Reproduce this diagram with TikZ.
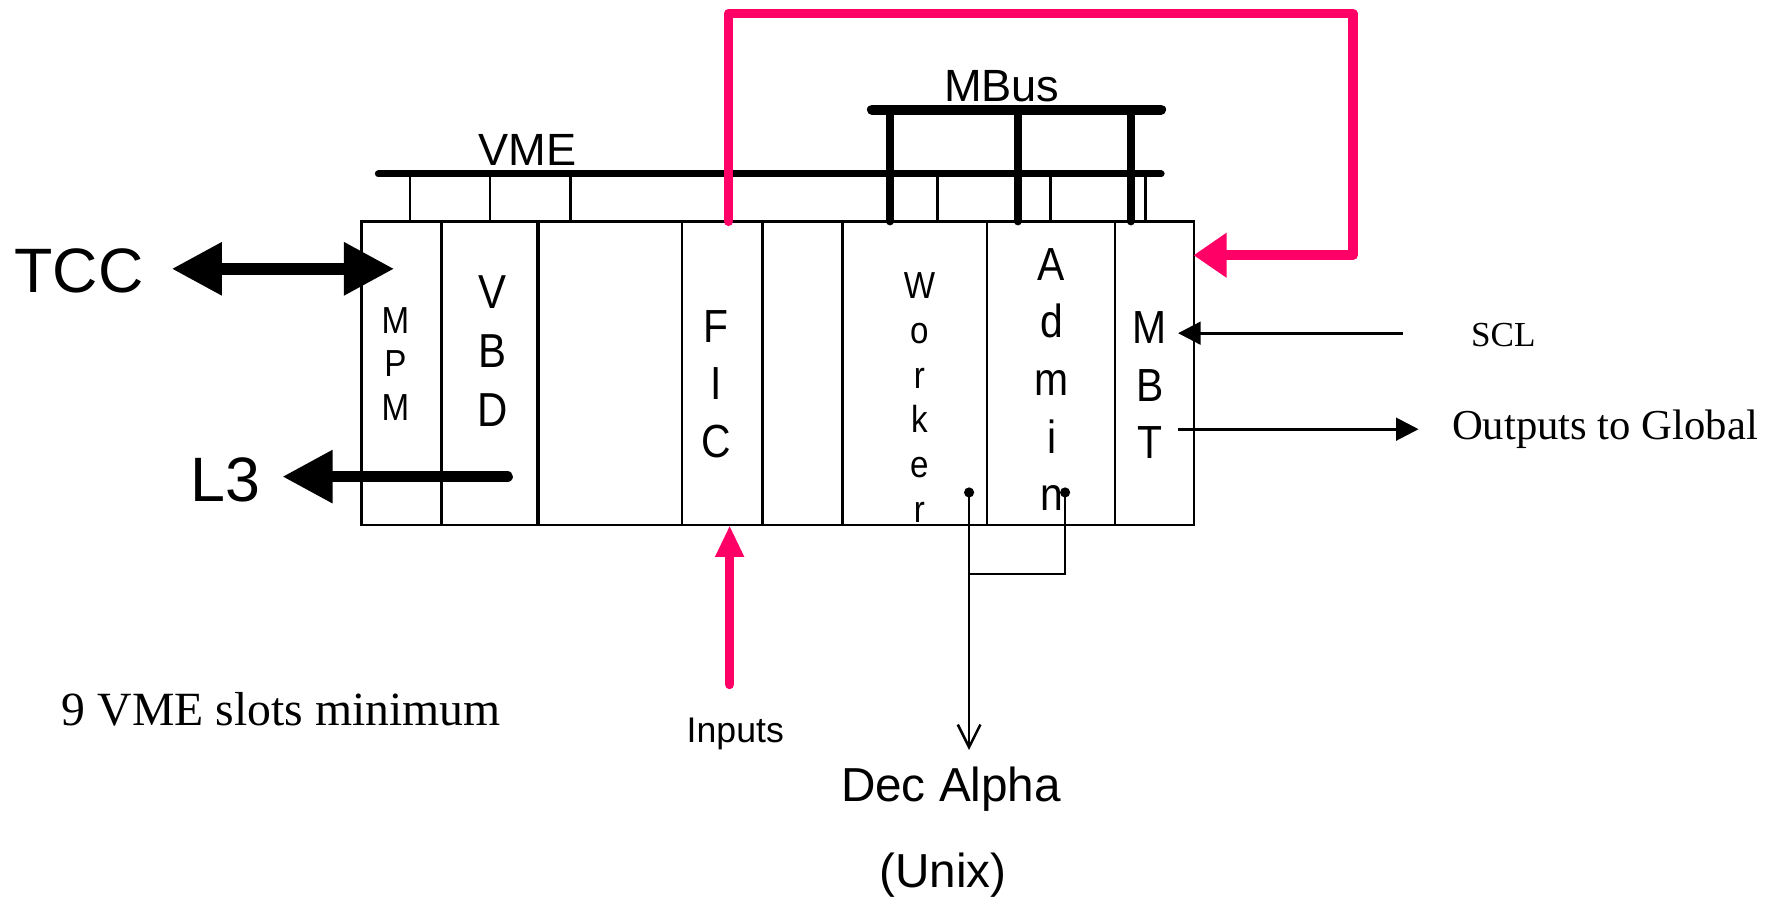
\documentclass[tikz,border=0pt]{standalone}
\usepackage{fontspec}
\setmainfont{Liberation Serif}
\setsansfont{Liberation Sans}
\newfontfamily\slotfont[FakeStretch=0.88]{Liberation Sans}
\usetikzlibrary{arrows.meta}
\definecolor{hotpink}{RGB}{255,0,102}
\tikzset{
  sf/.style={font=\sffamily\fontsize{#1}{#1}\selectfont, inner sep=0pt},
  rm/.style={font=\rmfamily\fontsize{#1}{#1}\selectfont, inner sep=0pt},
  stack/.style 2 args={font=\slotfont\fontsize{#1}{#2}\selectfont, align=center, inner sep=0pt},
  thinline/.style={line width=1pt},
  busline/.style={line width=2.8pt, line cap=round},
  mbusline/.style={line width=4pt, line cap=round},
  legline/.style={line width=3.2pt, line cap=round},
  pinkline/.style={draw=hotpink, line width=3.8pt, line cap=round, line join=round},
  bigarrow/.style={line width=4.6pt, -{Triangle[length=20pt,width=20pt]}},
  bigdouble/.style={line width=4.6pt, {Triangle[length=20pt,width=20pt]}-{Triangle[length=20pt,width=20pt]}},
  smallarrow/.style={line width=1.2pt, -{Triangle[length=9pt,width=9pt]}},
}
\begin{document}
\begin{tikzpicture}[x=0.45pt,y=-0.45pt]
\useasboundingbox (0,0) rectangle (1568,799);
% crate box and slot dividers
\draw[thinline] (320,196) rectangle (1057,465);
\foreach \xx in {391,604,675,746,874,987} \draw[thinline] (\xx,196) -- (\xx,465);
\draw[line width=1.6pt] (476,196) -- (476,465);
% VME bus
\coordinate (vmeL) at (335,154);
\coordinate (vmeR) at (1028,154);
\draw[busline] (vmeL) -- (vmeR);
\foreach \xx in {363,434,505,830,930,1014} \draw[thinline] (\xx,154) -- (\xx,196);
\node[sf=18] (vme) at (467,133) {VME};
% MBus
\draw[mbusline] (772,97) -- (1028,97);
\foreach \xx in {788,901,1001} \draw[legline] (\xx,97) -- (\xx,196);
\node[sf=18] (mbus) at (887,76) {MBus};
% slot labels
\node[stack={15}{17.3}] (mpm) at (350,322) {M\\P\\M};
\node[stack={19}{23.6}] (vbd) at (436,311) {V\\B\\D};
\node[stack={18.5}{23}] (fic) at (634,340) {F\\I\\C};
\node[stack={15}{17.8}] (worker) at (814,352) {W\\o\\r\\k\\e\\r};
\node[stack={18.5}{23}] (admin) at (931,336) {A\\d\\m\\i\\n};
\node[stack={18.5}{22.8}] (mbt) at (1018,341) {M\\B\\T};
% pink loop FIC -> MBT
\coordinate (ficTop) at (645,196);
\coordinate (mbtR) at (1057,226);
\draw[pinkline] (ficTop) -- (645,12) -- (1198,12) -- (1198,226) -- (1082,226);
\fill[hotpink] (mbtR) -- (1086,206) -- (1086,246) -- cycle;
% Inputs
\node[sf=14.2] (inputs) at (651,650) {Inputs};
\coordinate (inBot) at (646,606);
\coordinate (inTop) at (646,466);
\draw[pinkline] (inBot) -- (646,490);
\fill[hotpink] (inTop) -- (633,493) -- (659,493) -- cycle;
% TCC and L3
\node[sf=25] (tcc) at (70,240) {TCC};
\node[sf=25] (l3) at (200,425) {L3};
\coordinate (tccA) at (152,238);
\coordinate (tccB) at (349,238);
\draw[bigdouble] (tccA) -- (tccB);
\coordinate (l3A) at (449,422);
\coordinate (l3B) at (250,422);
\draw[line width=4.6pt, line cap=round] (l3A) -- (290,422);
\draw[bigarrow] (290,422) -- (l3B);
% SCL and outputs
\node[rm=14] (scl) at (1331,297) {SCL};
\node[rm=17] (outg) at (1421,380) {Outputs to Global};
\coordinate (sclA) at (1242,295);
\coordinate (sclB) at (1043,295);
\draw[smallarrow] (sclA) -- (sclB);
\coordinate (outA) at (1043,380);
\coordinate (outB) at (1256,380);
\draw[smallarrow] (outA) -- (outB);
% Worker/Admin to Dec Alpha
\coordinate (wdot) at (858,436);
\coordinate (adot) at (943,436);
\fill (wdot) circle (4.5);
\fill (adot) circle (4.5);
\coordinate (dec) at (858,664);
\draw[thinline, -{Straight Barb[length=9pt,width=9pt]}] (wdot) -- (dec);
\draw[thinline] (adot) -- (943,508) -- (858,508);
\node[sf=19] (decalpha) at (842,699) {Dec Alpha};
\node[sf=19] (unix) at (835,775) {(Unix)};
% note
\node[rm=19] (slots) at (249,628) {9 VME slots minimum};
\end{tikzpicture}
\end{document}
